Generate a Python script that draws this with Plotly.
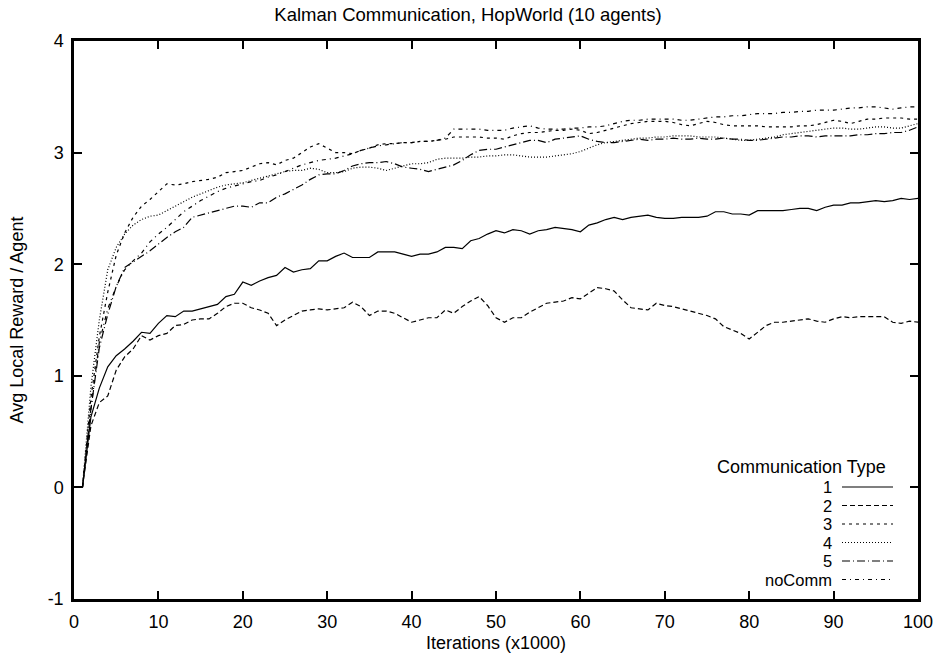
import plotly.graph_objects as go

ITER_K = list(range(1, 101))

TYPE_1 = [0.00, 0.63, 0.89, 1.08, 1.18, 1.24, 1.31, 1.39, 1.38, 1.47,
          1.54, 1.53, 1.58, 1.58, 1.60, 1.62, 1.64, 1.71, 1.73, 1.84,
          1.81, 1.85, 1.88, 1.90, 1.97, 1.93, 1.95, 1.96, 2.03, 2.03,
          2.07, 2.10, 2.06, 2.06, 2.06, 2.11, 2.11, 2.11, 2.09, 2.07,
          2.09, 2.09, 2.11, 2.15, 2.15, 2.14, 2.21, 2.23, 2.27, 2.30,
          2.28, 2.31, 2.30, 2.27, 2.30, 2.31, 2.33, 2.32, 2.31, 2.29,
          2.35, 2.37, 2.40, 2.42, 2.40, 2.42, 2.43, 2.44, 2.42, 2.41,
          2.41, 2.42, 2.42, 2.42, 2.43, 2.47, 2.47, 2.45, 2.45, 2.44,
          2.48, 2.48, 2.48, 2.48, 2.49, 2.50, 2.50, 2.48, 2.51, 2.53,
          2.53, 2.55, 2.55, 2.56, 2.57, 2.56, 2.57, 2.59, 2.58, 2.59]

TYPE_2 = [0.00, 0.55, 0.76, 0.82, 1.05, 1.17, 1.24, 1.36, 1.32, 1.36,
          1.38, 1.45, 1.46, 1.50, 1.51, 1.51, 1.56, 1.62, 1.65, 1.65,
          1.61, 1.59, 1.56, 1.45, 1.50, 1.54, 1.58, 1.59, 1.60, 1.59,
          1.60, 1.61, 1.66, 1.62, 1.54, 1.58, 1.58, 1.56, 1.52, 1.48,
          1.50, 1.52, 1.52, 1.59, 1.56, 1.62, 1.67, 1.71, 1.63, 1.52,
          1.48, 1.52, 1.52, 1.57, 1.61, 1.65, 1.66, 1.67, 1.70, 1.69,
          1.74, 1.79, 1.78, 1.76, 1.68, 1.61, 1.60, 1.59, 1.65, 1.63,
          1.62, 1.60, 1.58, 1.56, 1.54, 1.51, 1.44, 1.41, 1.38, 1.33,
          1.39, 1.45, 1.48, 1.48, 1.49, 1.50, 1.51, 1.49, 1.48, 1.51,
          1.53, 1.52, 1.53, 1.53, 1.53, 1.53, 1.48, 1.47, 1.49, 1.48]

TYPE_3 = [0.00, 0.80, 1.35, 1.75, 2.08, 2.28, 2.42, 2.52, 2.58, 2.65,
          2.72, 2.71, 2.72, 2.74, 2.75, 2.76, 2.78, 2.82, 2.83, 2.84,
          2.87, 2.90, 2.91, 2.89, 2.93, 2.95, 3.00, 3.05, 3.08, 3.04,
          3.00, 3.00, 2.99, 3.02, 3.04, 3.07, 3.08, 3.08, 3.09, 3.09,
          3.10, 3.10, 3.11, 3.12, 3.14, 3.14, 3.14, 3.14, 3.13, 3.13,
          3.12, 3.15, 3.17, 3.18, 3.18, 3.19, 3.20, 3.20, 3.21, 3.20,
          3.17, 3.18, 3.20, 3.22, 3.24, 3.26, 3.27, 3.28, 3.28, 3.28,
          3.27, 3.25, 3.24, 3.26, 3.28, 3.27, 3.25, 3.24, 3.24, 3.24,
          3.24, 3.23, 3.23, 3.23, 3.23, 3.24, 3.24, 3.25, 3.27, 3.29,
          3.28, 3.26, 3.28, 3.30, 3.30, 3.31, 3.31, 3.31, 3.30, 3.30]

TYPE_4 = [0.00, 0.90, 1.50, 1.95, 2.15, 2.27, 2.35, 2.40, 2.43, 2.44,
          2.48, 2.52, 2.56, 2.60, 2.63, 2.66, 2.69, 2.71, 2.72, 2.73,
          2.75, 2.77, 2.79, 2.81, 2.83, 2.84, 2.84, 2.86, 2.85, 2.82,
          2.82, 2.83, 2.86, 2.87, 2.87, 2.86, 2.84, 2.86, 2.88, 2.90,
          2.90, 2.91, 2.94, 2.95, 2.95, 2.95, 2.96, 2.96, 2.97, 2.97,
          2.98, 2.98, 2.97, 2.96, 2.96, 2.96, 2.97, 2.98, 2.99, 3.01,
          3.04, 3.07, 3.09, 3.10, 3.11, 3.12, 3.13, 3.13, 3.14, 3.14,
          3.15, 3.15, 3.15, 3.14, 3.14, 3.14, 3.13, 3.12, 3.11, 3.11,
          3.12, 3.13, 3.14, 3.16, 3.17, 3.18, 3.19, 3.20, 3.21, 3.22,
          3.22, 3.21, 3.21, 3.22, 3.23, 3.23, 3.22, 3.22, 3.24, 3.26]

TYPE_5 = [0.00, 0.70, 1.25, 1.55, 1.80, 1.97, 2.02, 2.07, 2.12, 2.18,
          2.24, 2.29, 2.33, 2.42, 2.44, 2.46, 2.48, 2.50, 2.52, 2.52,
          2.51, 2.55, 2.55, 2.60, 2.63, 2.67, 2.71, 2.76, 2.80, 2.81,
          2.81, 2.84, 2.88, 2.90, 2.91, 2.91, 2.92, 2.90, 2.87, 2.86,
          2.85, 2.83, 2.85, 2.87, 2.89, 2.93, 2.98, 3.02, 3.03, 3.03,
          3.05, 3.07, 3.09, 3.11, 3.11, 3.09, 3.12, 3.13, 3.14, 3.15,
          3.12, 3.10, 3.09, 3.09, 3.10, 3.11, 3.12, 3.11, 3.12, 3.12,
          3.13, 3.12, 3.12, 3.13, 3.12, 3.12, 3.13, 3.12, 3.12, 3.11,
          3.11, 3.12, 3.13, 3.14, 3.14, 3.15, 3.15, 3.14, 3.15, 3.15,
          3.15, 3.15, 3.16, 3.16, 3.17, 3.17, 3.18, 3.18, 3.20, 3.23]

TYPE_NOCOMM = [0.00, 0.70, 1.30, 1.60, 1.80, 1.95, 2.03, 2.10, 2.20, 2.27,
               2.33, 2.40, 2.47, 2.52, 2.57, 2.61, 2.65, 2.68, 2.70, 2.72,
               2.74, 2.75, 2.78, 2.80, 2.83, 2.86, 2.89, 2.91, 2.93, 2.94,
               2.95, 2.97, 2.99, 3.02, 3.04, 3.06, 3.07, 3.08, 3.09, 3.09,
               3.10, 3.10, 3.11, 3.13, 3.21, 3.21, 3.21, 3.21, 3.20, 3.20,
               3.20, 3.22, 3.23, 3.24, 3.22, 3.21, 3.21, 3.21, 3.22, 3.22,
               3.23, 3.23, 3.24, 3.26, 3.28, 3.29, 3.29, 3.30, 3.30, 3.30,
               3.30, 3.29, 3.29, 3.30, 3.31, 3.32, 3.32, 3.33, 3.33, 3.34,
               3.35, 3.35, 3.35, 3.36, 3.36, 3.37, 3.37, 3.38, 3.38, 3.38,
               3.39, 3.40, 3.40, 3.41, 3.41, 3.40, 3.39, 3.40, 3.41, 3.41]

SERIES_NAMES = ["1", "2", "3", "4", "5", "noComm"]
SERIES_VALUES = [TYPE_1, TYPE_2, TYPE_3, TYPE_4, TYPE_5, TYPE_NOCOMM]

X_TICKS = [0, 10, 20, 30, 40, 50, 60, 70, 80, 90, 100]
X_TICK_LABELS = ["0", "10", "20", "30", "40", "50", "60", "70", "80", "90", "100"]
Y_TICKS = [-1, 0, 1, 2, 3, 4]
Y_TICK_LABELS = ["-1", "0", "1", "2", "3", "4"]

TITLE = "Kalman Communication, HopWorld (10 agents)"
X_TITLE = "Iterations (x1000)"
Y_TITLE = "Avg Local Reward / Agent"
LEGEND_TITLE = "Communication Type"

DASHES = ["solid", "5px,3px", "3px,4px", "1px,2px", "8px,3px,1px,3px", "4px,4px,1px,4px"]
FONT = "Liberation Sans, Arial, Helvetica, sans-serif"
FS = 18
LEG_FS = 16.5

FIG_W, FIG_H = 937, 657

fig = go.Figure()
for name, vals, dash in zip(SERIES_NAMES, SERIES_VALUES, DASHES):
    fig.add_trace(go.Scatter(x=ITER_K, y=vals, mode="lines", name=name,
                             line=dict(color="black", width=1.2, dash=dash),
                             showlegend=False))

# hand-made legend (gnuplot style: right-aligned label, sample to the right)
W, H = 844.0, 558.0
def px(x):
    return (x - 74) / W
def py(y):
    return (599 - y) / H

annotations = [dict(text=LEGEND_TITLE, x=px(888), y=py(467), xref="paper", yref="paper",
                    xanchor="right", yanchor="middle", showarrow=False,
                    font=dict(family=FONT, size=FS, color="black"))]
shapes = []
ys = [487, 505.5, 524, 542.5, 561, 579.5]
for name, dash, yy in zip(SERIES_NAMES, DASHES, ys):
    annotations.append(dict(text=name, x=px(834), y=py(yy), xref="paper", yref="paper",
                            xanchor="right", yanchor="middle", showarrow=False,
                            font=dict(family=FONT, size=LEG_FS, color="black")))
    shapes.append(dict(type="line", xref="paper", yref="paper",
                       x0=px(842), x1=px(893), y0=py(yy), y1=py(yy),
                       line=dict(color="black", width=1.2, dash=dash)))

axis_common = dict(showline=True, linecolor="black", linewidth=2.5, mirror="allticks",
                   ticks="inside", ticklen=8, tickwidth=2, tickcolor="black",
                   showgrid=False, zeroline=False, automargin=False,
                   tickfont=dict(family=FONT, size=FS, color="black"))

fig.update_layout(
    width=FIG_W, height=FIG_H,
    paper_bgcolor="white", plot_bgcolor="white",
    margin=dict(l=74, r=FIG_W - 918, t=41, b=FIG_H - 599, autoexpand=False),
    title=dict(text=TITLE, x=468 / FIG_W, xref="container", xanchor="center",
               y=1 - 15 / FIG_H, yref="container", yanchor="middle",
               font=dict(family=FONT, size=18.5, color="black"), automargin=False),
    xaxis=dict(range=[0, 100], tickvals=X_TICKS, ticktext=X_TICK_LABELS, ticklabelstandoff=5,
               title=dict(text=X_TITLE, font=dict(family=FONT, size=FS, color="black"), standoff=6),
               **axis_common),
    yaxis=dict(range=[-1, 4], tickvals=Y_TICKS, ticktext=Y_TICK_LABELS, ticklabelstandoff=4,
               title=dict(text=Y_TITLE, font=dict(family=FONT, size=FS, color="black"), standoff=20),
               **axis_common),
    annotations=annotations,
    shapes=shapes,
    showlegend=False,
)

fig.write_html("out.html", config={"displayModeBar": False},
               post_script="document.body.style.margin='0';document.body.style.overflow='hidden';")
